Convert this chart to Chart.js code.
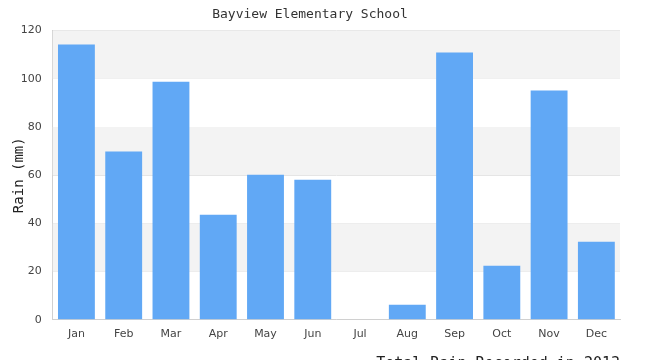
<!DOCTYPE html>
<html><head><meta charset="utf-8">
<script src="https://cdn.jsdelivr.net/npm/chart.js@4"></script>
<style>html,body{margin:0;padding:0;background:#fff}#wrap{width:650px;height:360px}</style>
</head><body><div id="wrap"><canvas id="c"></canvas></div>
<script>
const months = ["Jan","Feb","Mar","Apr","May","Jun","Jul","Aug","Sep","Oct","Nov","Dec"];
const rain = [114.2, 69.8, 98.8, 43.6, 60.2, 58.1, 0, 6.2, 110.9, 22.4, 95.1, 32.4];
const yTicks = [0, 20, 40, 60, 80, 100, 120];

const bands = {
  id: 'bands',
  beforeDatasetsDraw(chart) {
    const {ctx, chartArea: a, scales: {y}} = chart;
    ctx.save();
    ctx.fillStyle = '#f3f3f3';
    for (let i = 0; i < yTicks.length - 1; i++) {
      if (i % 2 === 1) {
        const t = y.getPixelForValue(yTicks[i + 1]);
        const b = y.getPixelForValue(yTicks[i]);
        ctx.fillRect(a.left, t, a.right - a.left, b - t);
      }
    }
    ctx.restore();
  }
};

new Chart(document.getElementById('c'), {
  type: 'bar',
  data: { labels: months, datasets: [{ data: rain, backgroundColor: '#61a8f5', barPercentage: 0.78, categoryPercentage: 1 }] },
  options: {
    responsive: true, maintainAspectRatio: false, animation: false,
    layout: { padding: { left: 0, right: 30, top: 1, bottom: -13 } },
    plugins: {
      legend: { display: false }, tooltip: { enabled: false },
      title: { display: true, text: 'Bayview Elementary School', color: '#333', font: { family: 'DejaVu Sans Mono', size: 13, weight: 'normal' }, padding: { top: 6, bottom: 8 } }
    },
    scales: {
      x: {
        grid: { display: false, drawTicks: false },
        border: { color: '#d0d0d0' },
        ticks: { color: '#444', font: { family: 'DejaVu Sans', size: 11 }, padding: 8 },
        title: { display: true, text: 'Total Rain Recorded in 2013', align: 'end', color: '#222', font: { family: 'DejaVu Sans Mono', size: 15 }, padding: { top: 6, bottom: 0 } }
      },
      y: {
        min: 0, max: 120,
        afterBuildTicks(s) { s.ticks = yTicks.map(v => ({ value: v })); },
        grid: { color: '#e2e2e2', drawTicks: false },
        border: { color: '#d0d0d0' },
        ticks: { color: '#444', font: { family: 'DejaVu Sans', size: 11 }, padding: 11 },
        title: { display: true, text: 'Rain (mm)', color: '#222', font: { family: 'DejaVu Sans Mono', size: 14 }, padding: { top: 11, bottom: -18 } }
      }
    }
  },
  plugins: [bands]
});
</script></body></html>
